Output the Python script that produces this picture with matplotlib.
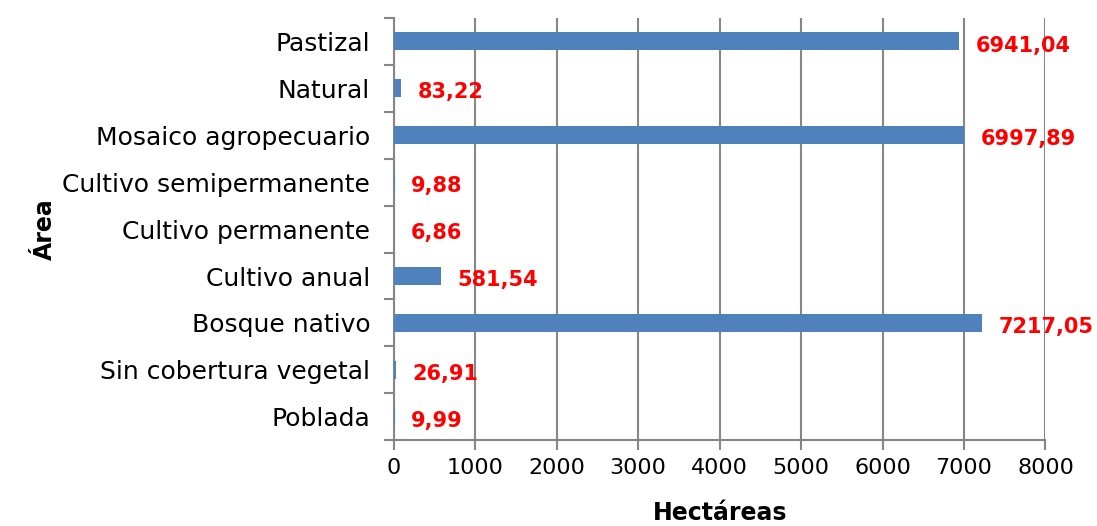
import matplotlib.pyplot as plt
import numpy as np

plt.rcParams['font.family'] = ['DejaVu Sans']

# data, bottom to top as drawn
categorias = ["Poblada", "Sin cobertura vegetal", "Bosque nativo", "Cultivo anual",
              "Cultivo permanente", "Cultivo semipermanente", "Mosaico agropecuario",
              "Natural", "Pastizal"]
hectareas = [9.99, 26.91, 7217.05, 581.54, 6.86, 9.88, 6997.89, 83.22, 6941.04]
etiquetas = ["9,99", "26,91", "7217,05", "581,54", "6,86", "9,88", "6997,89", "83,22", "6941,04"]

fig = plt.figure(figsize=(10.97, 5.26), dpi=100)
ax = fig.add_axes([0.359, 0.163, 0.594, 0.803])

gris = "#868686"
y = np.arange(len(categorias))
ax.barh(y, hectareas, height=0.38, color="#4f81bd", zorder=3)

for yi, v, txt in zip(y, hectareas, etiquetas):
    ax.annotate(txt, (v, yi), xytext=(12, -3), textcoords="offset points",
                ha="left", va="center", color="red", fontsize=15, fontweight="bold")

ax.set_xlim(0, 8000)
ax.set_ylim(-0.5, len(categorias) - 0.5)
ax.set_xticks(np.arange(0, 8001, 1000))
ax.set_yticks(y)
ax.set_yticklabels(categorias)
ax.set_yticks(np.arange(-0.5, len(categorias), 1), minor=True)
ax.tick_params(axis="y", which="major", length=0, pad=17, labelsize=18)
ax.tick_params(axis="y", which="minor", length=7, color=gris, width=1.5)
ax.tick_params(axis="x", length=7, color=gris, width=1.5, labelsize=16, pad=6)

ax.grid(axis="x", color=gris, linewidth=1.5, zorder=0)
for s in ["top", "right"]:
    ax.spines[s].set_visible(False)
for s in ["left", "bottom"]:
    ax.spines[s].set_color(gris)
    ax.spines[s].set_linewidth(1.5)

ax.set_xlabel("Hectáreas", fontsize=17, fontweight="bold", labelpad=16)
ax.set_ylabel("Área", fontsize=17, fontweight="bold", labelpad=4)

plt.savefig("out.png", dpi=100)
